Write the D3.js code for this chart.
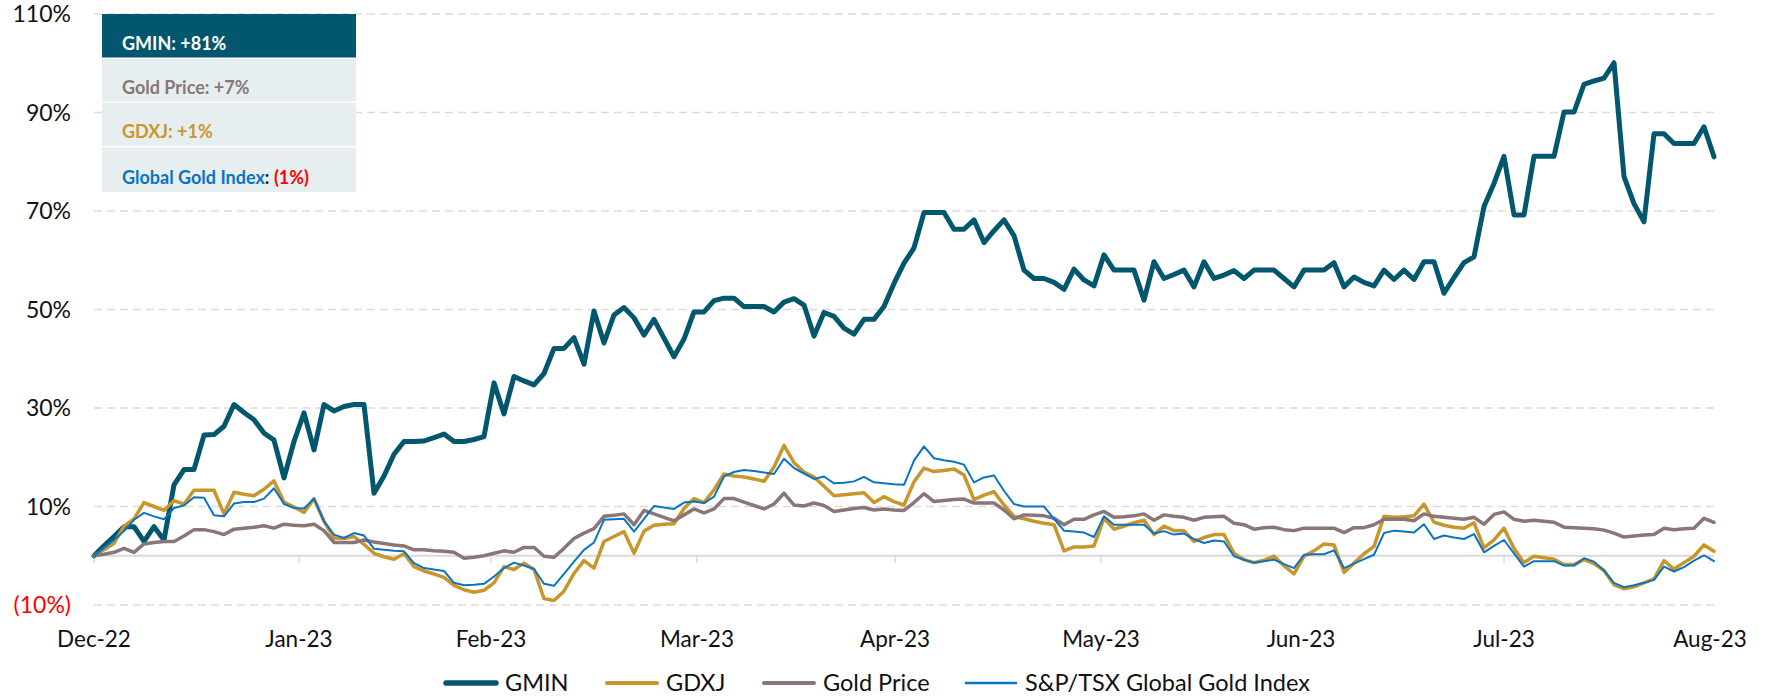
<!DOCTYPE html>
<html>
<head>
<meta charset="utf-8">
<script src="https://cdn.jsdelivr.net/npm/d3@7"></script>
<style>
  body { margin: 0; background: #ffffff; }
  svg { display: block; font-family: Lato, "Open Sans", sans-serif; }
</style>
</head>
<body>
<div id="chart"></div>
<script>
// month labels and where they sit on the point index
const monthLabels = ["Dec-22", "Jan-23", "Feb-23", "Mar-23", "Apr-23", "May-23", "Jun-23", "Jul-23", "Aug-23"];
const monthTickIdx = [0, 20.5, 39.7, 60.3, 80.1, 100.7, 120.7, 141, 161.6];

const yTicks = [-10, 10, 30, 50, 70, 90, 110];

// cumulative return (%) since start, one value per point
const gmin = [0,2.0,3.9,5.9,5.9,2.9,5.9,3.2,14.4,17.5,17.5,24.5,24.6,26.3,30.7,29.1,27.6,24.9,23.5,15.8,
  23.2,29.0,21.5,30.7,29.4,30.3,30.7,30.7,12.7,16.2,20.6,23.2,23.2,23.3,24.0,24.7,23.2,23.2,23.6,24.2,
  35.1,28.8,36.4,35.5,34.7,37.0,42.1,42.1,44.3,38.9,49.7,43.2,48.9,50.4,48.3,44.8,48.0,44.2,40.4,44.0,
  49.5,49.5,51.8,52.3,52.3,50.6,50.6,50.6,49.5,51.5,52.2,50.9,44.6,49.4,48.6,46.2,45.0,48.0,48.0,50.6,
  55.3,59.4,62.5,69.7,69.7,69.7,66.3,66.3,68.2,63.6,66.0,68.2,65.0,58.0,56.3,56.3,55.5,54.1,58.2,56.0,
  54.8,61.1,58.0,58.0,58.0,51.9,59.7,56.3,57.1,58.0,54.6,59.7,56.3,57.0,57.9,56.3,58.0,58.0,58.0,56.3,
  54.6,58.0,58.0,58.0,59.5,54.6,56.6,55.5,54.8,58.0,56.1,58.0,56.1,59.7,59.7,53.3,56.5,59.5,60.7,70.9,
  75.6,81.1,69.2,69.2,81.1,81.1,81.1,90.1,90.1,95.7,96.4,97.0,100.1,77.0,71.5,67.8,85.7,85.7,83.7,83.7,
  83.7,87.1,81.0];

const gdxj = [0,1.2,2.5,6.0,7.5,10.8,10.0,9.2,11.2,10.5,13.3,13.3,13.3,8.5,12.9,12.5,12.2,13.5,15.2,10.9,
  9.9,8.8,11.6,7.0,3.6,3.5,3.9,2.3,0.5,-0.2,-0.7,0.4,-2.2,-3.1,-3.7,-4.4,-6.0,-6.9,-7.4,-7.0,
  -5.5,-2.2,-2.8,-1.5,-2.8,-8.7,-9.1,-7.2,-3.6,-1.0,-2.5,2.9,3.9,4.9,0.5,5.0,6.2,6.4,6.5,9.6,
  11.6,10.8,13.4,16.6,16.2,16.0,15.6,15.1,18.0,22.4,18.9,17.0,16.0,14.1,12.2,12.4,12.6,12.8,10.8,12.0,
  11.0,10.3,15.0,17.8,17.1,17.3,17.6,16.4,11.4,12.3,13.0,10.3,8.0,7.5,7.0,6.6,6.3,1.0,1.8,1.8,
  2.0,7.6,5.4,6.0,6.7,7.2,4.3,6.0,5.1,5.1,2.9,3.7,4.3,4.3,0.5,-0.8,-1.4,-0.9,-0.1,-2.0,
  -3.7,-0.1,1.0,2.4,2.2,-3.4,-1.5,0.4,1.9,8.0,7.8,7.9,8.1,10.5,6.8,6.2,5.8,5.6,6.7,1.6,
  3.2,5.6,1.5,-1.4,-0.1,-0.4,-0.7,-1.8,-1.8,-0.8,-1.6,-3.0,-5.9,-6.7,-6.3,-5.5,-4.7,-1.0,-2.7,-1.4,
  -0.1,2.2,0.9];

const goldPrice = [0,0.3,0.7,1.5,0.7,2.4,2.7,2.9,2.9,4.0,5.3,5.3,4.9,4.3,5.4,5.6,5.8,6.1,5.6,6.4,
  6.2,6.1,6.4,5.1,2.7,2.7,2.7,3.2,2.8,2.5,2.2,2.0,1.2,1.2,1.0,0.9,0.7,-0.5,-0.3,0.0,
  0.5,1.0,0.7,1.7,1.7,-0.1,-0.3,1.5,3.5,4.6,5.5,8.0,8.2,8.5,6.3,9.2,8.5,7.8,7.1,8.3,
  9.5,8.7,9.5,11.6,11.6,10.9,10.2,9.5,10.5,12.7,10.3,10.1,10.7,10.2,9.0,9.3,9.6,9.8,9.3,9.5,
  9.3,9.2,10.8,12.6,11.0,11.2,11.4,11.5,10.7,10.7,10.7,9.3,7.5,8.3,8.2,8.1,7.6,6.3,7.4,7.4,
  8.3,9.0,7.8,7.9,8.1,8.5,7.2,8.3,8.0,7.8,7.2,7.8,7.9,8.0,6.6,6.3,5.4,5.7,5.8,5.3,
  5.1,5.6,5.6,5.6,5.6,4.7,5.7,5.7,6.3,7.4,7.4,7.4,7.1,8.5,8.0,7.8,7.6,7.4,7.8,6.4,
  8.4,8.9,7.4,7.0,7.2,7.0,6.8,5.8,5.7,5.6,5.5,5.2,4.6,3.8,4.0,4.2,4.3,5.6,5.3,5.5,
  5.6,7.6,6.8];

const globalGold = [0,1.6,3.2,5.0,7.3,8.7,8.0,7.4,9.7,10.2,11.9,11.8,8.2,8.0,10.6,10.9,10.9,11.6,13.7,10.5,
  9.7,9.6,11.6,7.0,4.3,3.6,4.6,4.1,1.4,1.2,1.0,0.9,-1.5,-2.5,-2.8,-3.1,-5.5,-6.0,-5.9,-5.7,
  -4.2,-2.5,-1.4,-2.0,-2.7,-5.7,-6.1,-3.7,-1.2,1.2,2.7,7.3,7.4,7.5,4.9,7.5,10.1,9.8,9.5,10.8,
  11.0,10.7,12.0,16.1,17.0,17.4,17.2,16.9,16.6,19.7,17.8,16.7,15.6,16.1,14.7,14.8,15.1,16.0,14.9,14.7,
  14.5,14.4,19.3,22.2,19.8,19.4,19.1,18.5,14.9,15.9,16.3,13.2,10.5,10.0,10.0,10.0,7.5,5.1,4.9,4.7,
  3.8,8.0,6.3,6.3,6.3,6.3,4.5,5.0,4.3,4.5,3.4,2.6,3.1,2.9,-0.1,-0.8,-1.4,-1.1,-0.8,-1.7,
  -2.5,0.2,0.3,0.3,1.1,-2.5,-1.6,-0.7,0.2,4.6,5.1,4.9,4.7,6.4,3.4,4.1,3.7,3.4,4.4,0.7,
  2.0,3.2,0.5,-2.2,-1.1,-1.1,-1.1,-2.0,-2.0,-0.5,-1.2,-3.0,-5.5,-6.4,-6.0,-5.5,-4.9,-2.2,-3.2,-2.3,
  -1.0,0.1,-1.1];

const seriesNames = ["GMIN", "GDXJ", "Gold Price", "S&P/TSX Global Gold Index"];
const seriesColors = ["#02576e", "#c8962b", "#8a7676", "#0a74c4"];
const seriesWidths = [5, 3.5, 3.5, 2];
const seriesValues = [gmin, gdxj, goldPrice, globalGold];

const width = 1769, height = 698;
const margin = { left: 94, right: 55, top: 14, bottom: 93 };

var svg = d3.select("#chart").append("svg")
  .attr("width", width)
  .attr("height", height);

var x = d3.scaleLinear()
  .domain([0, gmin.length - 1])
  .range([margin.left, width - margin.right]);

var y = d3.scaleLinear()
  .domain([-10, 110])
  .range([height - margin.bottom, margin.top]);

// dashed gridlines
svg.append("g").selectAll("line")
  .data(yTicks)
  .join("line")
  .attr("x1", margin.left)
  .attr("x2", width - margin.right + 2)
  .attr("y1", d => y(d))
  .attr("y2", d => y(d))
  .attr("stroke", "#dcdcdc")
  .attr("stroke-width", 1.5)
  .attr("stroke-dasharray", "8,5");

// y labels
svg.append("g").selectAll("text")
  .data(yTicks)
  .join("text")
  .attr("x", 71)
  .attr("y", d => y(d))
  .attr("dy", "0.35em")
  .attr("text-anchor", "end")
  .style("font-size", "23px")
  .style("fill", d => d < 0 ? "#ff0000" : "#111111")
  .text(d => d < 0 ? "(" + Math.abs(d) + "%)" : d + "%");

// zero axis with month ticks
svg.append("line")
  .attr("x1", margin.left)
  .attr("x2", width - margin.right)
  .attr("y1", y(0))
  .attr("y2", y(0))
  .attr("stroke", "#d9d9d9")
  .attr("stroke-width", 2);

svg.append("g").selectAll("line")
  .data(monthTickIdx)
  .join("line")
  .attr("x1", d => x(d))
  .attr("x2", d => x(d))
  .attr("y1", y(0))
  .attr("y2", y(0) + 7)
  .attr("stroke", "#d9d9d9")
  .attr("stroke-width", 1.5);

svg.append("g").selectAll("text")
  .data(monthLabels)
  .join("text")
  .attr("x", (d, i) => x(monthTickIdx[i]))
  .attr("y", 647)
  .attr("text-anchor", "middle")
  .style("font-size", "22.5px")
  .style("fill", "#111111")
  .text(d => d);

// series lines
var line = d3.line()
  .x((d, i) => x(i))
  .y(d => y(d));

svg.append("g").selectAll("path")
  .data(seriesValues)
  .join("path")
  .attr("d", d => line(d))
  .attr("fill", "none")
  .attr("stroke", (d, i) => seriesColors[i])
  .attr("stroke-width", (d, i) => seriesWidths[i])
  .attr("stroke-linejoin", "round")
  .attr("stroke-linecap", "round");

// bottom legend
const legendX = [446, 607, 764, 966];
var legend = svg.append("g").selectAll("g")
  .data(seriesNames)
  .join("g")
  .attr("transform", (d, i) => "translate(" + legendX[i] + ",683)");

legend.append("line")
  .attr("x1", 0)
  .attr("x2", 50)
  .attr("stroke", (d, i) => seriesColors[i])
  .attr("stroke-width", (d, i) => seriesWidths[i] + 0.5)
  .attr("stroke-linecap", "round");

legend.append("text")
  .attr("x", 59)
  .attr("dy", "0.35em")
  .style("font-size", "23.5px")
  .style("fill", "#111111")
  .text(d => d);

// return summary box (top left)
const boxRows = [
  { parts: [["GMIN: +81%", "#ffffff"]], bg: "#02576e" },
  { parts: [["Gold Price: +7%", "#8a7676"]], bg: "#e6eef0" },
  { parts: [["GDXJ: +1%", "#c8962b"]], bg: "#e6eef0" },
  { parts: [["Global Gold Index", "#0a74c4"], [": ", "#1a1a1a"], ["(1%)", "#ff0000"]], bg: "#e6eef0" }
];
const boxTop = [14, 59, 103, 147.5];
const boxBottom = [57.5, 101.5, 146, 192];

var box = svg.append("g").selectAll("g")
  .data(boxRows)
  .join("g");

box.append("rect")
  .attr("x", 102)
  .attr("y", (d, i) => boxTop[i])
  .attr("width", 254)
  .attr("height", (d, i) => boxBottom[i] - boxTop[i])
  .attr("fill", d => d.bg);

box.append("text")
  .attr("x", 122)
  .attr("y", (d, i) => boxBottom[i] - 8)
  .style("font-size", "18px")
  .style("font-weight", "bold")
  .selectAll("tspan")
  .data(d => d.parts)
  .join("tspan")
  .style("fill", d => d[1])
  .attr("xml:space", "preserve")
  .text(d => d[0]);
</script>
</body>
</html>
